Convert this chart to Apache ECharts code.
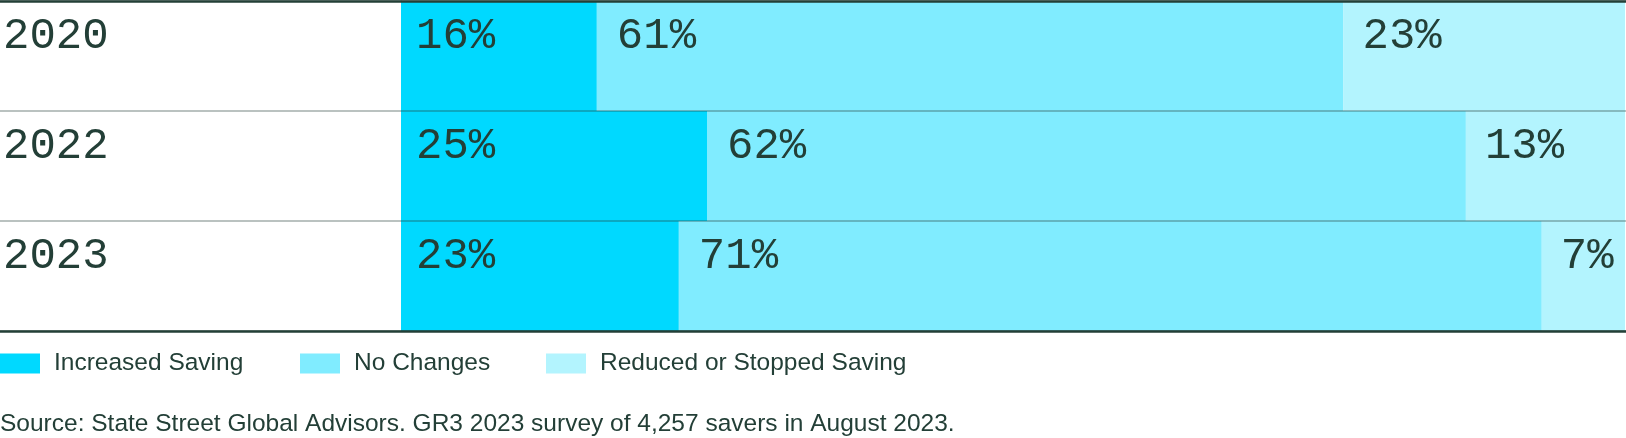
<!DOCTYPE html>
<html>
<head>
<meta charset="utf-8">
<script src="https://cdn.jsdelivr.net/npm/echarts@6/dist/echarts.min.js"></script>
<style>
html,body{margin:0;padding:0;background:#fff;}
#chart{width:1626px;height:438px;}
</style>
</head>
<body>
<div id="chart"></div>
<script>
const categories = ['2020', '2022', '2023'];
const seriesNames = ['Increased Saving', 'No Changes', 'Reduced or Stopped Saving'];
const increasedSaving = [16, 25, 22.7];
const noChanges = [61, 62, 70.5];
const reducedSaving = [23, 13, 6.8];
const sourceText = 'Source: State Street Global Advisors. GR3 2023 survey of 4,257 savers in August 2023.';

const colors = ['#00D9FF', '#80ECFF', '#B3F4FE'];
const ink = '#233F37';
const monoFont = "'Liberation Mono', 'DejaVu Sans Mono', monospace";
const sansFont = "'Liberation Sans', Arial, sans-serif";

const chart = echarts.init(document.getElementById('chart'), null, {renderer: 'canvas'});

function seriesFor(name, data, idx, labelX) {
  return {
    name: name,
    type: 'bar',
    stack: 'total',
    xAxisIndex: 0,
    yAxisIndex: 0,
    barCategoryGap: 0,
    barWidth: '100%',
    data: data,
    itemStyle: {color: colors[idx]},
    emphasis: {disabled: true},
    label: {
      show: true,
      position: [labelX, 35],
      align: 'left',
      verticalAlign: 'middle',
      color: ink,
      fontFamily: monoFont,
      fontSize: 44,
      formatter: p => Math.round(p.value) + '%'
    }
  };
}

const legendBase = {
  top: 351,
  padding: 0,
  itemWidth: 40,
  itemHeight: 20,
  icon: 'rect',
  selectedMode: false,
  textStyle: {color: ink, fontFamily: sansFont, fontSize: 24.5, lineHeight: 20, padding: [0, 0, 0, 9]}
};

const frameAxis = pos => ({
  type: 'value', gridIndex: 1, position: pos, min: 0, max: 100, z: 10,
  axisLine: {show: true, onZero: false, lineStyle: {color: ink, width: 2.5}},
  axisTick: {show: false}, axisLabel: {show: false}, splitLine: {show: false}
});

chart.setOption({
  animation: false,
  backgroundColor: '#fff',
  title: {
    text: sourceText,
    left: 0,
    top: 412,
    padding: 0,
    textStyle: {color: ink, fontFamily: sansFont, fontSize: 24.5, fontWeight: 'normal', lineHeight: 24}
  },
  legend: [
    Object.assign({}, legendBase, {left: 0, data: [seriesNames[0]]}),
    Object.assign({}, legendBase, {left: 300, data: [seriesNames[1]]}),
    Object.assign({}, legendBase, {left: 546, data: [seriesNames[2]]})
  ],
  grid: [
    {left: 398, right: 1, top: 1, height: 330, containLabel: false},
    {left: 0, right: 0, top: 1, height: 330, containLabel: false}
  ],
  xAxis: [
    {type: 'value', gridIndex: 0, min: 0, max: 100, show: false},
    frameAxis('top'),
    frameAxis('bottom')
  ],
  yAxis: [
    {
      type: 'category', gridIndex: 0, data: categories, inverse: true,
      axisLine: {show: true, lineStyle: {color: 'rgba(35,63,55,0.45)', width: 1}},
      axisTick: {show: false},
      splitLine: {show: false},
      axisLabel: {
        show: true, align: 'left', margin: 398, verticalAlign: 'middle',
        formatter: v => '{a|' + v + '}\n{b|}',
        rich: {
          a: {color: ink, fontFamily: monoFont, fontSize: 44, lineHeight: 44},
          b: {height: 39, lineHeight: 39}
        }
      }
    },
    {
      type: 'category', gridIndex: 1, data: categories, inverse: true, z: 10,
      axisLine: {show: false}, axisTick: {show: false}, axisLabel: {show: false},
      splitLine: {show: true, lineStyle: {color: 'rgba(35,63,55,0.42)', width: 1.5}}
    }
  ],
  series: [
    seriesFor(seriesNames[0], increasedSaving, 0, 15),
    seriesFor(seriesNames[1], noChanges, 1, 20),
    seriesFor(seriesNames[2], reducedSaving, 2, 19)
  ]
});
</script>
</body>
</html>
